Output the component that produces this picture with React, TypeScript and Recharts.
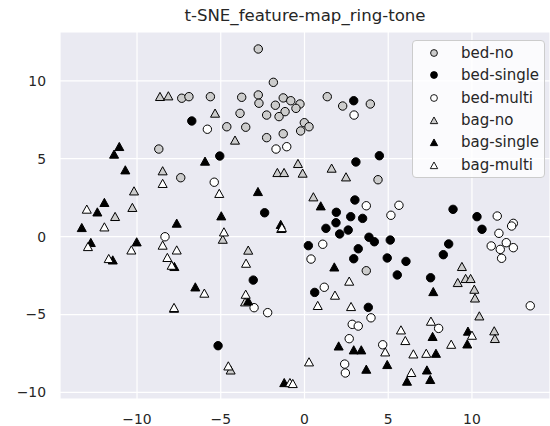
import { CartesianGrid, Scatter, ScatterChart, XAxis, YAxis } from 'recharts';

type Pt = [number, number];

// values
const bedNo: Pt[] = [
  [-2.76, 12.04], [-1.86, 9.9], [-7.33, 8.88], [-6.9, 8.98], [-5.62, 8.98], [-3.75, 8.94],
  [-2.76, 9.09], [-2.72, 8.56], [-1.74, 8.43], [-1.27, 8.9], [-0.82, 8.72], [-0.27, 8.51],
  [-0.51, 8.23], [-1.16, 8.02], [-1.52, 7.7], [-2.26, 7.8], [-0.01, 7.31], [-0.23, 6.78],
  [-1.27, 6.6], [-2.26, 6.35], [-3.85, 7.91], [-4.64, 7.05], [-3.51, 7.02], [-8.7, 5.62],
  [-7.39, 3.78], [0.27, 7.05], [1.36, 8.98], [2.28, 8.38], [3.93, 8.51], [4.39, 3.65],
  [3.69, -2.19],
];
const bedSingle: Pt[] = [
  [-6.73, 7.42], [-5.06, 5.17], [-2.38, 1.53], [2.94, 8.72], [3.07, 4.79], [4.47, 5.19],
  [3.01, 2.35], [1.9, 1.56], [2.76, 1.28], [3.47, 1.17], [8.87, 1.75], [10.3, 1.28],
  [10.6, 0.47], [1.88, 0.89], [1.28, 0.53], [2.1, 0.17], [2.61, 0.42], [3.85, -0.04],
  [4.17, -0.33], [5.12, -0.22], [3.21, -0.78], [2.94, -1.42], [4.94, -1.37], [6.06, -1.59],
  [8.61, -0.47], [8.29, -1.16], [0.23, -0.58], [5.54, -2.46], [7.53, -2.64], [0.61, -3.58],
  [3.81, -4.54], [-3.06, -2.79], [-5.16, -7.0],
];
const bedMulti: Pt[] = [
  [-5.8, 6.89], [-1.7, 5.62], [-1.06, 5.77], [-5.39, 3.49], [2.96, 7.8], [3.69, 1.98],
  [5.64, 2.01], [5.16, 1.37], [11.51, 1.32], [12.47, 0.85], [12.37, 0.68], [11.61, 0.21],
  [11.15, -0.6], [11.69, -0.82], [12.05, -0.39], [12.47, -0.71], [11.77, -1.39], [13.48, -4.44],
  [1.09, -0.49], [0.39, -1.44], [1.18, -3.25], [3.97, -5.21], [2.85, -5.63], [3.21, -5.74],
  [2.67, -6.55], [2.4, -8.18], [2.44, -8.75], [4.67, -6.94], [8.01, -5.89], [-8.33, -0.01],
  [-3.01, -4.56], [-2.2, -4.88],
];
const bagNo: Pt[] = [
  [-8.63, 8.94], [-8.13, 8.98], [-5.34, 7.87], [-4.15, 6.14], [-8.47, 4.17], [-10.18, 2.88],
  [-10.28, 1.82], [-11.31, 1.24], [-1.62, 4.06], [-1.22, 4.06], [-0.39, 4.64], [-0.11, 4.02],
  [1.62, 4.34], [2.48, 3.78], [0.53, 2.5], [-1.39, 0.47], [-4.88, -0.22], [-3.36, -0.92],
  [-7.79, -4.65], [-4.41, -8.61], [9.4, -1.97], [9.15, -3.0], [9.62, -2.74], [9.92, -2.74],
  [10.14, -3.43], [10.18, -3.99], [10.44, -5.14], [11.33, -6.1], [11.37, -6.59], [-3.55, -4.24],
];
const bagSingle: Pt[] = [
  [-11.06, 5.73], [-11.37, 5.24], [-5.94, 4.79], [-10.7, 4.23], [-2.78, 2.84], [-4.97, 1.28],
  [-11.95, 2.14], [-12.37, 1.53], [0.97, 1.92], [1.78, -2.0], [7.69, -3.58], [-13.3, 0.53],
  [-7.63, 0.81], [-1.42, 0.73], [-12.76, -0.43], [-10.02, -0.39], [-11.45, -1.55], [-7.77, -1.97],
  [-6.52, -3.28], [-3.36, -4.18], [2.04, -7.07], [2.94, -7.32], [3.39, -7.32], [3.69, -8.56],
  [4.94, -8.26], [7.65, -6.46], [7.85, -7.54], [9.72, -6.94], [9.76, -6.12], [7.31, -8.61],
  [6.12, -9.33], [7.51, -9.22], [-1.21, -9.42],
];
const bagMulti: Pt[] = [
  [-8.47, 3.36], [-5.09, 2.72], [-13.0, 1.71], [-11.95, 0.57], [-4.81, 0.25], [-8.47, -0.6],
  [-7.63, -0.91], [-12.93, -0.69], [-10.34, -0.91], [-11.69, -1.46], [-8.19, -1.39], [-7.93, -1.89],
  [-3.49, -1.76], [-5.98, -3.68], [-3.51, -3.75], [-7.79, -4.6], [-4.55, -8.35], [-0.87, -9.42],
  [-0.7, -9.48], [2.67, -2.91], [1.82, -3.81], [0.79, -4.47], [2.78, -4.54], [4.82, -7.45],
  [5.76, -6.04], [6.02, -6.72], [7.55, -5.48], [6.5, -7.58], [7.27, -7.54], [8.76, -6.96],
  [10.0, -6.38], [6.38, -8.77], [0.27, -8.09], [-1.35, 0.53],
];

const ticks = [-10, -5, 0, 5, 10];

const series = [
  { name: 'bed-no', points: bedNo, fill: '#cccccc', shape: 'circle' },
  { name: 'bed-single', points: bedSingle, fill: '#000000', shape: 'circle' },
  { name: 'bed-multi', points: bedMulti, fill: '#ffffff', shape: 'circle' },
  { name: 'bag-no', points: bagNo, fill: '#cccccc', shape: 'triangle' },
  { name: 'bag-single', points: bagSingle, fill: '#000000', shape: 'triangle' },
  { name: 'bag-multi', points: bagMulti, fill: '#ffffff', shape: 'triangle' },
];

const FONT = '"DejaVu Sans", sans-serif';

const triPath = (cx: number, cy: number, r: number) =>
  `M${cx},${cy - r * 1.15} L${cx + r * 1.05},${cy + r * 0.75} L${cx - r * 1.05},${cy + r * 0.75} Z`;

const makeShape = (shape: string, fill: string) => (props: any) => {
  const { cx, cy } = props;
  if (cx == null || cy == null) return <g />;
  if (shape === 'circle') {
    return <circle cx={cx} cy={cy} r={4.2} fill={fill} stroke="#000" strokeWidth={1} />;
  }
  return <path d={triPath(cx, cy, 4.3)} fill={fill} stroke="#000" strokeWidth={1} />;
};

const fmt = (v: number) => String(v).replace('-', '\u2212');

const LegendBox = () => (
  <div
    style={{
      position: 'absolute',
      left: 412,
      top: 40,
      width: 133,
      height: 138,
      boxSizing: 'border-box',
      background: 'rgba(255,255,255,0.8)',
      border: '1px solid #cccccc',
      borderRadius: 4,
      fontFamily: FONT,
      fontSize: 15,
      color: '#262626',
      paddingTop: 1,
    }}
  >
    {series.map((s) => (
      <div key={s.name} style={{ height: 22.3, display: 'flex', alignItems: 'center' }}>
        <svg width={48} height={14} style={{ flexShrink: 0 }}>
          {s.shape === 'circle' ? (
            <circle cx={21} cy={7} r={3.4} fill={s.fill} stroke="#000" strokeWidth={0.9} />
          ) : (
            <path d={triPath(21, 8, 3.5)} fill={s.fill} stroke="#000" strokeWidth={0.9} />
          )}
        </svg>
        <span>{s.name}</span>
      </div>
    ))}
  </div>
);

export default function App() {
  return (
    <div style={{ position: 'absolute', left: 0, top: 0, width: 550, height: 426, background: '#fff' }}>
      <div
        style={{
          position: 'absolute',
          left: 60,
          width: 490,
          top: 6,
          textAlign: 'center',
          fontFamily: FONT,
          fontSize: 16.6,
          color: '#262626',
          lineHeight: '20px',
        }}
      >
        t-SNE_feature-map_ring-tone
      </div>
      <ScatterChart width={550} height={426} margin={{ top: 32, right: 0, bottom: 0, left: 0 }}>
        <CartesianGrid fill="#eaeaf2" stroke="#ffffff" strokeWidth={1.2} />
        <XAxis
          type="number"
          dataKey="x"
          domain={[-14.6, 14.66]}
          ticks={ticks}
          height={27}
          tickLine={false}
          axisLine={false}
          tickSize={0}
          tickMargin={15}
          tickFormatter={fmt}
          tick={{ fill: '#262626', fontSize: 13.9, fontFamily: FONT }}
          allowDataOverflow
        />
        <YAxis
          type="number"
          dataKey="y"
          domain={[-10.42, 13.13]}
          ticks={ticks}
          width={60}
          tickLine={false}
          axisLine={false}
          tickSize={0}
          tickMargin={14}
          tickFormatter={fmt}
          tick={{ fill: '#262626', fontSize: 13.9, fontFamily: FONT }}
          allowDataOverflow
        />
        {series.map((s) => (
          <Scatter
            key={s.name}
            name={s.name}
            data={s.points.map(([x, y]) => ({ x, y }))}
            fill={s.fill}
            shape={makeShape(s.shape, s.fill)}
            isAnimationActive={false}
          />
        ))}
      </ScatterChart>
      <LegendBox />
    </div>
  );
}
